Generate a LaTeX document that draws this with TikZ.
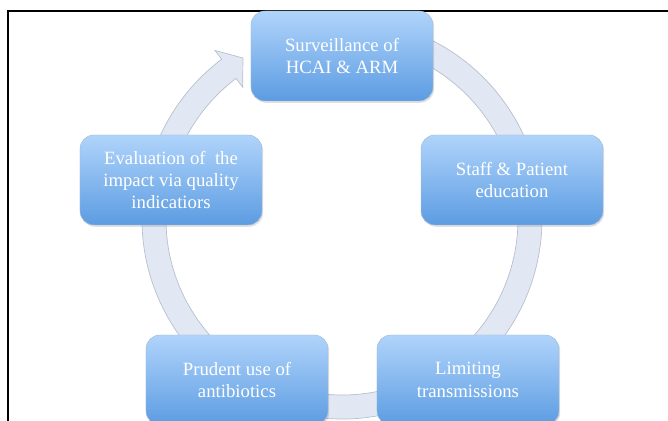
\documentclass[tikz,border=0pt]{standalone}
\usepackage{fontspec}
\setmainfont{Liberation Serif}
\usetikzlibrary{shadows}
\definecolor{boxtop}{HTML}{B0D4FB}
\definecolor{boxbot}{HTML}{5C9CE2}
\definecolor{boxedge}{HTML}{A4BCD8}
\definecolor{ringfill}{HTML}{E1E8F3}
\definecolor{ringedge}{HTML}{B7C0CE}
\begin{document}
\begin{tikzpicture}[x=0.03cm, y=0.03cm,
    stage/.style={rectangle, rounded corners=0.42cm, minimum width=5.46cm, minimum height=2.7cm,
      top color=boxtop, bottom color=boxbot, draw=boxedge, line width=0.4pt, text=white,
      align=center, font=\fontsize{16}{19}\selectfont,
      drop shadow={opacity=0.25, shadow xshift=1pt, shadow yshift=-1.5pt}}]
    \useasboundingbox (0,0) rectangle (668,421);
    \clip (0,0) rectangle (668,421);
    % frame
    \draw [line width=1.6pt] (8,-20) -- (8,410) -- (700,410);
    % cycle ring with arrow head
    \begin{scope}[shift={(342,202)}]
      \filldraw [fill=ringfill, draw=ringedge, line width=0.6pt]
        (80:200) arc [start angle=80, end angle=-233, radius=200]
        -- (127:211) -- (121.6:189) -- (127:165) -- (127:176)
        arc [start angle=-233, end angle=80, radius=176] -- cycle;
    \end{scope}
    % stages
    \node [stage] (surv) at (342,365) {Surveillance of\\HCAI \& ARM};
    \node [stage] (staff) at (512,241) {Staff \& Patient\\education};
    \node [stage] (limit) at (468,41) {Limiting\\transmissions};
    \node [stage] (prud) at (237,41) {Prudent use of\\antibiotics};
    \node [stage] (eval) at (171,241) {Evaluation of~ the\\impact via quality\\indicatiors};
\end{tikzpicture}
\end{document}
